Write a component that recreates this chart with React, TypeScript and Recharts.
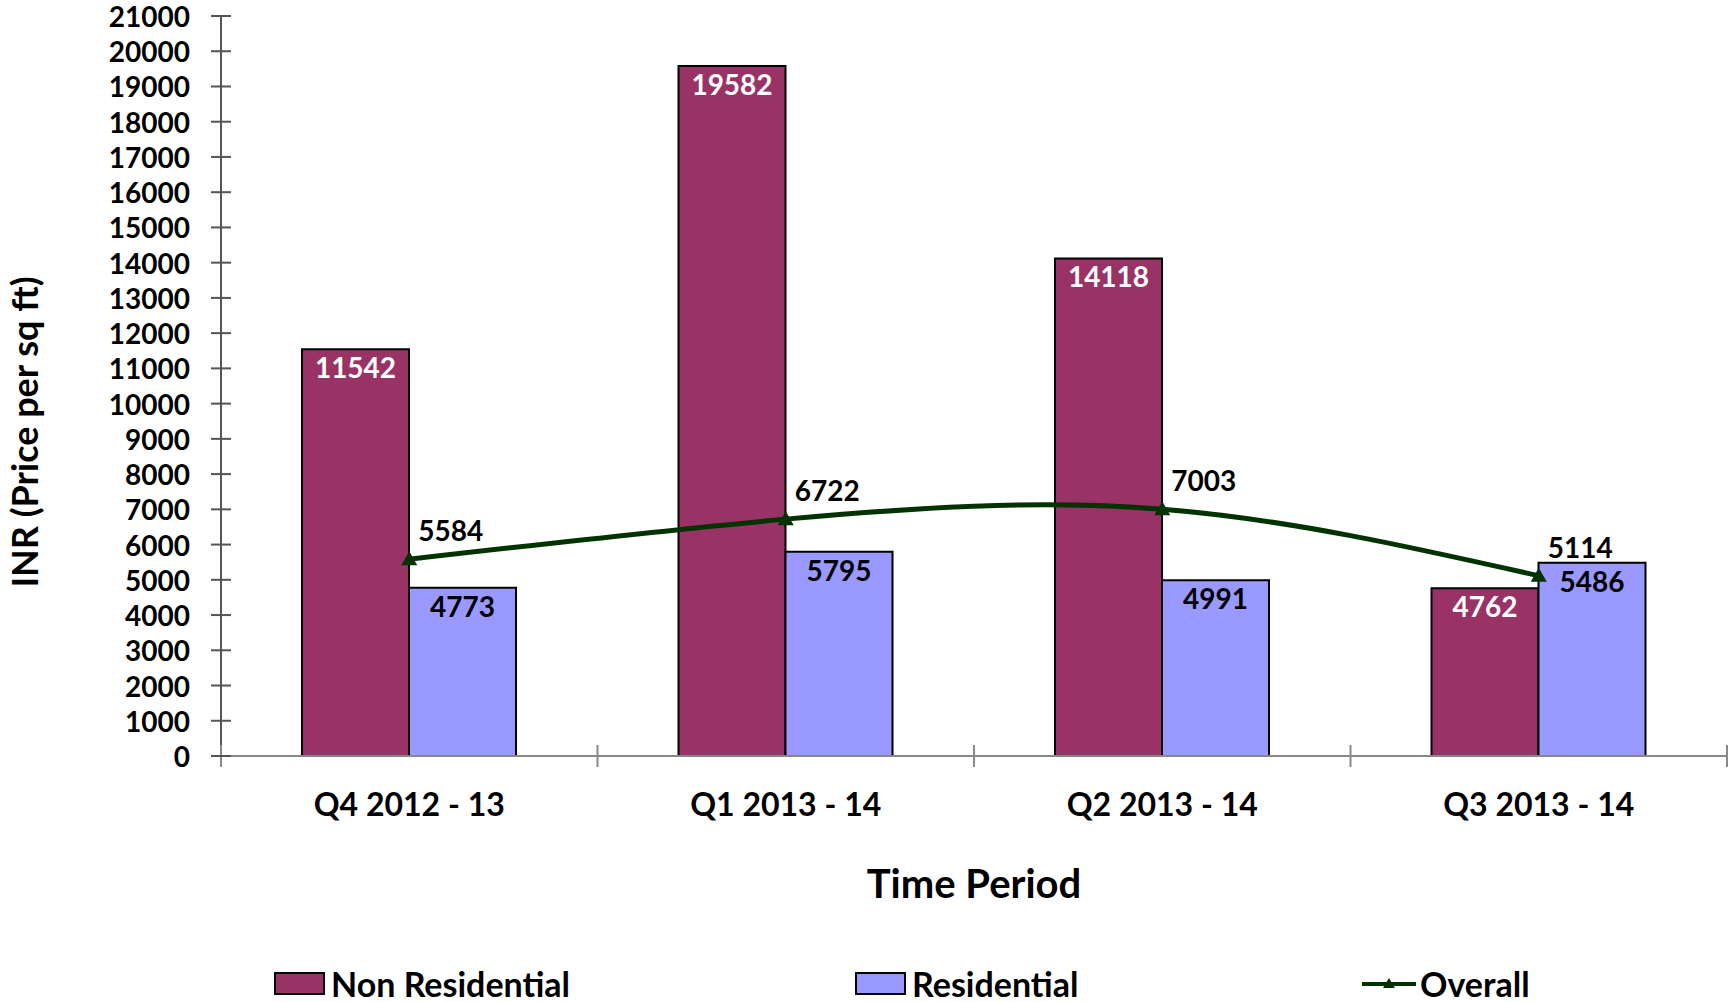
import { Bar, ComposedChart, LabelList, Legend, Line, XAxis, YAxis } from "recharts";

const periods = ["Q4 2012 - 13", "Q1 2013 - 14", "Q2 2013 - 14", "Q3 2013 - 14"];
const nonResidential = [11542, 19582, 14118, 4762];
const residential = [4773, 5795, 4991, 5486];
const overall = [5584, 6722, 7003, 5114];
const yTicks = [
  0, 1000, 2000, 3000, 4000, 5000, 6000, 7000, 8000, 9000, 10000, 11000, 12000,
  13000, 14000, 15000, 16000, 17000, 18000, 19000, 20000, 21000,
];

const FONT = "Lato, Carlito, 'Liberation Sans', sans-serif";
const NON_RES = "#993366";
const RES = "#9999FF";
const LINE = "#003300";

const data = periods.map((p, i) => ({
  period: p,
  nonResidential: nonResidential[i],
  residential: residential[i],
  overall: overall[i],
}));

// Excel style category ticks: marks sit on the category boundaries and cross the axis
function PeriodTick(props: any) {
  const { x, y, payload, index, visibleTicksCount, width } = props;
  const half = payload.offset ?? width / visibleTicksCount / 2;
  const last = index === visibleTicksCount - 1;
  return (
    <g>
      <line x1={x - half} x2={x - half} y1={y - 11} y2={y + 11} stroke="#888" strokeWidth={2} />
      {last && (
        <line x1={x + half} x2={x + half} y1={y - 11} y2={y + 11} stroke="#888" strokeWidth={2} />
      )}
      <text
        x={x}
        y={y + 47}
        textAnchor="middle"
        dominantBaseline="central"
        fontFamily={FONT}
        fontWeight="bold"
        fontSize={32}
        fill="#000"
      >
        {payload.value}
      </text>
    </g>
  );
}

function ValueTick(props: any) {
  const { x, y, payload } = props;
  return (
    <g>
      <line x1={x - 10} x2={x + 10} y1={y} y2={y} stroke="#555" strokeWidth={2} />
      <text
        x={x - 31}
        y={y}
        textAnchor="end"
        dominantBaseline="central"
        fontFamily={FONT}
        fontWeight="bold"
        fontSize={28}
        fill="#000"
      >
        {payload.value}
      </text>
    </g>
  );
}

function YTitle(props: any) {
  const { viewBox } = props;
  const cx = viewBox.x + 24;
  const cy = viewBox.y + viewBox.height / 2 + 46;
  return (
    <text
      x={cx}
      y={cy}
      transform={`rotate(-90 ${cx} ${cy})`}
      textAnchor="middle"
      dominantBaseline="central"
      fontFamily={FONT}
      fontWeight="bold"
      fontSize={36}
      fill="#000"
    >
      INR (Price per sq ft)
    </text>
  );
}

function TriangleDot(props: any) {
  const { cx, cy } = props;
  if (cx == null || cy == null) return null;
  return (
    <polygon points={`${cx},${cy - 8} ${cx - 8},${cy + 6} ${cx + 8},${cy + 6}`} fill={LINE} />
  );
}

function OverallLabel(props: any) {
  const { x, y, value } = props;
  return (
    <text
      x={x + 9}
      y={y - 29}
      textAnchor="start"
      dominantBaseline="central"
      fontFamily={FONT}
      fontWeight="bold"
      fontSize={28}
      fill="#000"
    >
      {value}
    </text>
  );
}

function LegendRow() {
  const swatch = (color: string) => (
    <span
      style={{
        display: "inline-block",
        width: 47,
        height: 19,
        background: color,
        border: "2px solid #000",
      }}
    />
  );
  const item = (w: number) => ({ display: "flex", alignItems: "center", gap: 6, width: w }) as const;
  return (
    <div
      style={{
        display: "flex",
        alignItems: "center",
        paddingLeft: 274,
        fontFamily: FONT,
        fontWeight: "bold",
        fontSize: 34,
        color: "#000",
      }}
    >
      <div style={item(581)}>
        {swatch(NON_RES)}
        <span>Non Residential</span>
      </div>
      <div style={item(507)}>
        {swatch(RES)}
        <span>Residential</span>
      </div>
      <div style={item(240)}>
        <svg width={54} height={23}>
          <line x1={0} x2={54} y1={12} y2={12} stroke={LINE} strokeWidth={4} />
          <polygon points="27,6 21,16 33,16" fill={LINE} />
        </svg>
        <span style={{ marginLeft: -2 }}>Overall</span>
      </div>
    </div>
  );
}

export default function App() {
  return (
    <div style={{ position: "absolute", left: 0, top: 0, background: "#fff" }}>
      <ComposedChart
        width={1732}
        height={1002}
        data={data}
        margin={{ top: 16, right: 5, bottom: 0, left: 0 }}
        barCategoryGap={81}
        barGap={0}
      >
        <XAxis
          dataKey="period"
          height={246}
          axisLine={{ stroke: "#888", strokeWidth: 2 }}
          tickLine={false}
          tickSize={0}
          tickMargin={0}
          tick={<PeriodTick />}
          interval={0}
          label={{
            value: "Time Period",
            position: "insideBottom",
            offset: 104,
            fontFamily: FONT,
            fontWeight: "bold",
            fontSize: 40,
            fill: "#000",
          }}
        />
        <YAxis
          width={221}
          domain={[0, 21000]}
          ticks={yTicks}
          interval={0}
          axisLine={{ stroke: "#555", strokeWidth: 2 }}
          tickLine={false}
          tickSize={0}
          tickMargin={0}
          tick={<ValueTick />}
          label={<YTitle />}
        />
        <Bar
          dataKey="nonResidential"
          name="Non Residential"
          fill={NON_RES}
          stroke="#000"
          strokeWidth={2}
          isAnimationActive={false}
        >
          <LabelList
            dataKey="nonResidential"
            position="insideTop"
            offset={9}
            fill="#fff"
            fontFamily={FONT}
            fontWeight="bold"
            fontSize={28}
          />
        </Bar>
        <Bar
          dataKey="residential"
          name="Residential"
          fill={RES}
          stroke="#000"
          strokeWidth={2}
          isAnimationActive={false}
        >
          <LabelList
            dataKey="residential"
            position="insideTop"
            offset={9}
            fill="#000"
            fontFamily={FONT}
            fontWeight="bold"
            fontSize={28}
          />
        </Bar>
        <Line
          dataKey="overall"
          name="Overall"
          type="natural"
          stroke={LINE}
          strokeWidth={5}
          dot={<TriangleDot />}
          activeDot={false}
          isAnimationActive={false}
        >
          <LabelList dataKey="overall" content={<OverallLabel />} />
        </Line>
        <Legend
          layout="horizontal"
          verticalAlign="middle"
          align="center"
          wrapperStyle={{ top: 963, left: 0, width: 1732 }}
          content={() => <LegendRow />}
        />
      </ComposedChart>
    </div>
  );
}
